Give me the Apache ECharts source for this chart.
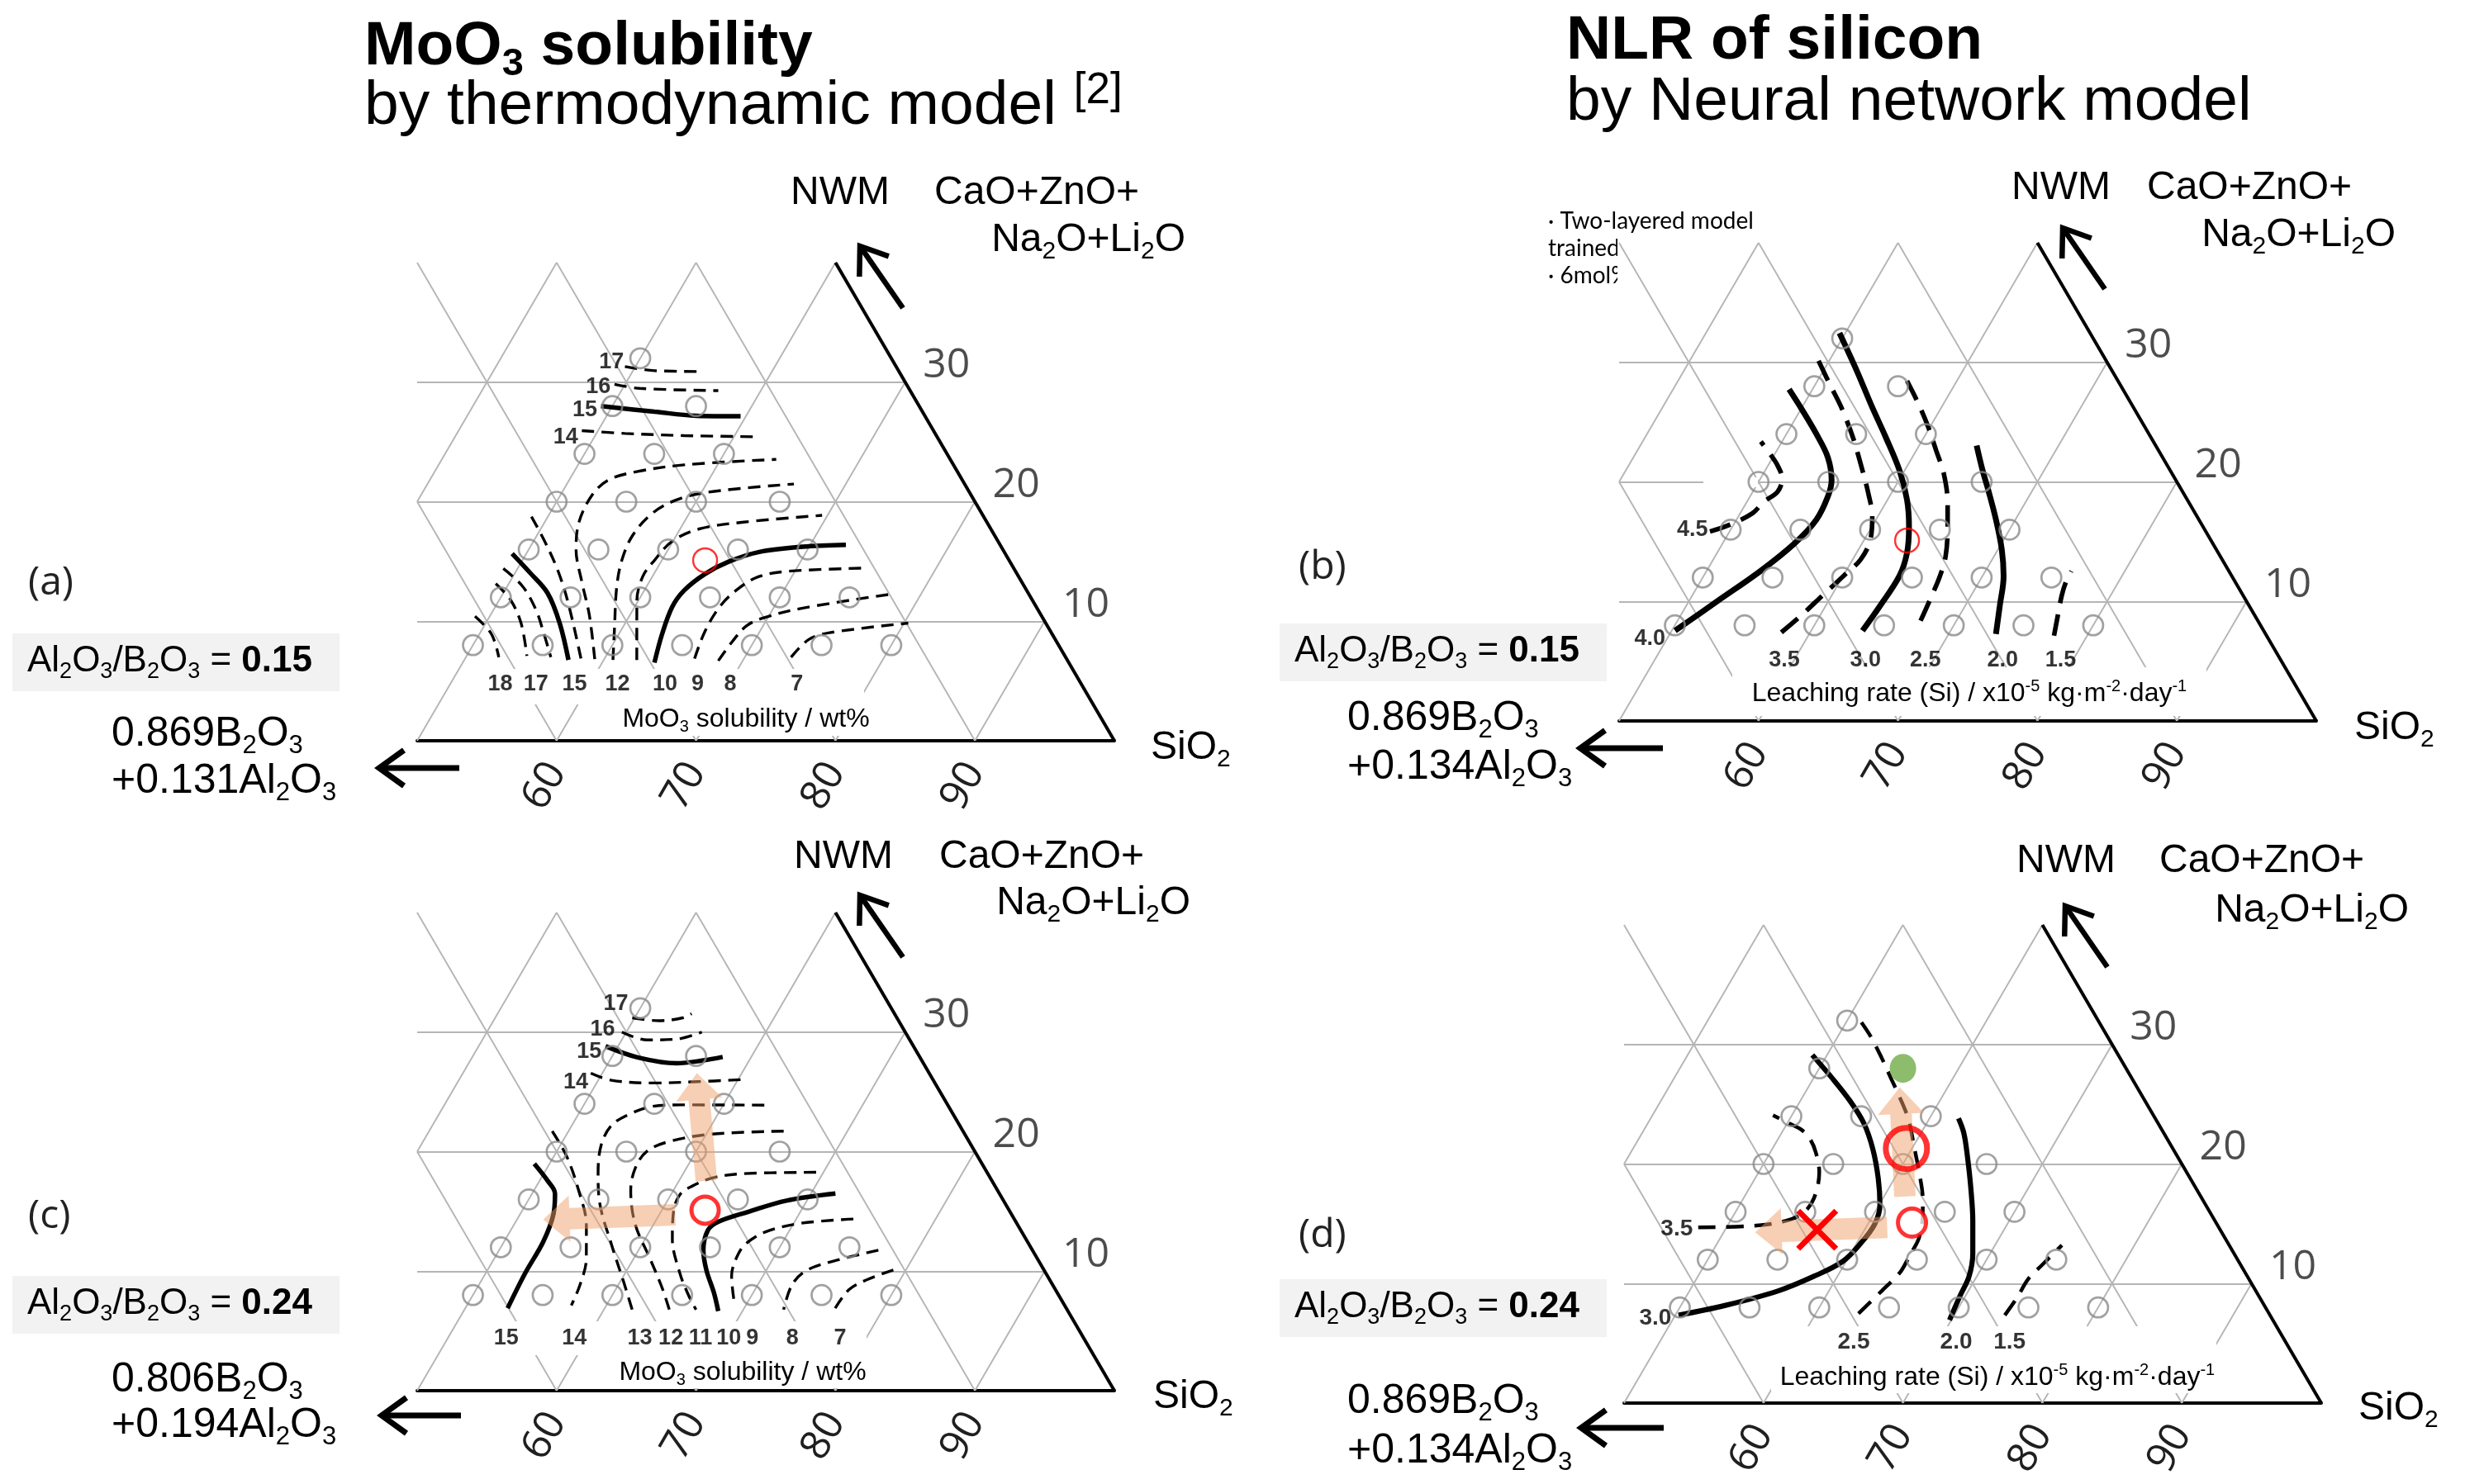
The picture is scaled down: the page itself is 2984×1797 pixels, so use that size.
<!DOCTYPE html>
<html><head><meta charset="utf-8"><title>MoO3 solubility and NLR of silicon</title>
<script src="https://cdn.jsdelivr.net/npm/echarts@6.0.0/dist/echarts.min.js"></script>
<style>html,body{margin:0;padding:0;background:#fff;}#chart{width:2984px;height:1797px;}</style>
</head><body><div id="chart"></div>
<script>
// ======================= DATA (compositions in mol%: [SiO2, NWM]) =======================
const SIO2_TICKS = [60, 70, 80, 90];
const NWM_TICKS = [10, 20, 30];
const LATTICE = [10, 20, 30, 40, 50, 60, 70, 80, 90];

const glassPoints = [[50,32],[50,28],[56,28],[50,24],[55,24],[60,24],[50,20],[55,20],[60,20],[66,20],
  [50,16],[55,16],[60,16],[65,16],[70,16],[50,12],[55,12],[60,12],[65,12],[70,12],[75,12],
  [50,8],[55,8],[60,8],[65,8],[70,8],[75,8],[80,8]];
const baseGlass = [[63.1, 15.1]];
const nnBestGlass = [[59.6, 21.3]];
const rejectedGlass = [[56.6, 14.5]];
const greenGlass = [[56, 28]];

// (a) MoO3 solubility, Al2O3/B2O3 = 0.15 (wt%)
const solubilityA = [
  {v:'18', p:[[48.94,10.41],[50.86,8.93],[52.36,6.99]]},
  {v:'17', p:[[49.06,13.15],[50.81,11.78],[52.53,9.84],[54.32,7.10]]},
  {v:'16', p:[[48.97,14.41],[51.10,12.92],[53.02,10.98],[54.46,9.16],[56.09,6.99]]},
  {v:'15', solid:true, p:[[48.98,15.66],[51.06,14.06],[53.18,12.35],[55.30,9.84],[57.47,6.76]]},
  {v:'14', p:[[48.82,18.75],[50.80,16.69],[53.02,14.18],[55.13,11.44],[58.34,6.83]]},
  {v:'13', p:[[59.32,6.83],[57.08,10.53],[55.18,13.27],[53.39,16.01],[52.46,18.29],[52.27,20.57],[52.82,21.83],[54.49,22.51],[57.61,23.08],[63.98,23.54]]},
  {v:'12', p:[[60.66,6.76],[59.46,9.38],[57.90,12.81],[57.13,15.09],[56.86,17.15],[57.32,18.97],[58.45,20.11],[60.45,20.80],[66.28,21.48]]},
  {v:'11', p:[[62.37,6.76],[59.92,11.67],[59.31,13.72],[59.47,15.09],[59.95,16.69],[61.36,17.72],[64.27,18.29],[69.61,18.86]]},
  {v:'10', solid:true, p:[[63.75,6.53],[63.10,8.93],[62.69,11.21],[62.86,12.58],[63.66,13.95],[64.85,14.98],[66.58,15.78],[69.54,16.23],[72.55,16.39]]},
  {v:'9', p:[[66.46,6.87],[66.06,9.16],[66.09,11.21],[66.58,12.58],[67.61,13.72],[69.51,14.18],[75.11,14.45]]},
  {v:'8', p:[[68.25,6.69],[68.44,8.24],[68.81,9.61],[69.75,10.30],[72.11,11.10],[77.71,12.24]]},
  {v:'7', p:[[73.32,6.99],[73.85,8.47],[75.06,9.04],[80.30,9.84]]},
  {v:'14', p:[[48.84,25.94],[52.05,25.71],[56.39,25.53],[61.64,25.43]]},
  {v:'15', solid:true, p:[[49.19,27.99],[53.25,27.53],[56.40,27.19],[59.62,27.15]]},
  {v:'16', p:[[49.24,29.82],[51.22,29.48],[56.95,29.29]]},
  {v:'17', p:[[49.25,31.30],[51.54,30.96],[54.98,30.89]]}
];
const labelsA = [['18',53.61,4.7],['17',56.16,4.7],['15',58.93,4.7],['12',62.01,4.7],['10',65.42,4.7],['9',67.76,4.7],
  ['8',70.10,4.7],['7',74.89,4.7],['17',48.12,31.64],['16',48.19,29.59],['15',48.20,27.65],['14',47.96,25.37]];

// (b) NLR of Si, Al2O3/B2O3 = 0.15 (x10^-5 kg m^-2 day^-1)
const leachingB = [
  {v:'4.5', p:[[48.59,15.85],[49.70,16.40],[50.87,17.37],[51.22,18.34],[51.78,19.17],[51.56,20.27],[50.67,21.38],[49.64,22.35],[48.48,23.37]]},
  {v:'4.0', solid:true, p:[[50.24,7.55],[52.05,10.04],[53.86,12.53],[55.17,14.88],[55.73,16.82],[55.59,18.75],[55.17,20.14],[53.93,22.07],[52.14,24.01],[50.19,25.95],[48.32,27.74]]},
  {v:'3.5', p:[[57.93,7.41],[58.69,8.93],[59.32,10.45],[60.02,12.11],[60.57,13.50],[60.44,15.16],[59.61,17.09],[58.36,19.03],[56.56,21.52],[54.90,23.73],[52.83,26.22],[51.03,28.16],[49.15,30.23]]},
  {v:'3.0', solid:true, p:[[63.68,7.55],[63.90,9.62],[64.04,12.11],[63.62,14.05],[62.66,16.26],[61.41,18.48],[59.62,20.97],[57.26,23.73],[55.05,26.22],[52.42,29.27],[49.58,32.45]]},
  {v:'2.5', p:[[67.43,8.38],[67.22,10.18],[66.95,12.11],[66.53,13.77],[65.43,16.26],[64.46,18.20],[62.94,20.69],[61.42,22.63],[59.90,24.56],[58.23,26.50],[56.43,28.44]]},
  {v:'2.0', solid:true, p:[[73.39,7.27],[72.49,9.62],[71.52,12.11],[70.28,14.33],[68.62,16.82],[66.82,19.31],[65.58,20.97],[64.12,23.04]]},
  {v:'1.5', p:[[77.62,7.14],[77.06,8.80],[76.51,10.45],[76.24,11.56],[76.17,12.53]]}
];
const labelsB = [['4.5',47.27,15.99],['4.0',48.78,6.86],['3.5',59.32,5.05],['3.0',65.14,5.05],['2.5',69.44,5.05],['2.0',74.98,5.05],['1.5',79.14,5.05]];

// (c) MoO3 solubility, Al2O3/B2O3 = 0.24
const solubilityC = [
  {v:'17', p:[[49.83,31.19],[51.87,30.95],[53.45,31.19],[53.91,31.54]]},
  {v:'16', p:[[49.68,30.00],[51.82,29.34],[53.92,29.41],[55.42,30.00]]},
  {v:'15', solid:true, p:[[49.10,28.82],[51.92,27.87],[54.92,27.39],[56.71,27.63],[57.95,27.92]]},
  {v:'14', p:[[49.17,26.56],[50.94,25.97],[54.04,25.74],[57.18,25.85],[60.18,26.02]]},
  {v:'13', p:[[62.95,23.89],[57.08,23.91],[55.01,23.79],[53.65,23.13],[52.84,22.18],[52.93,20.52],[53.90,18.15],[55.19,15.78],[57.82,12.23],[60.22,9.15],[62.03,6.78]]},
  {v:'12', p:[[65.43,21.71],[60.44,21.47],[57.75,20.88],[56.47,20.05],[56.33,18.63],[56.95,16.73],[58.70,13.89],[61.18,11.04],[63.21,8.67],[64.69,6.78]]},
  {v:'11', p:[[69.48,18.27],[64.22,18.15],[62.27,17.80],[61.14,17.09],[60.64,16.38],[60.86,15.07],[61.95,12.70],[63.90,9.86],[65.49,7.96],[66.61,6.78]]},
  {v:'10', solid:true, p:[[71.75,16.49],[68.54,15.90],[66.24,14.95],[64.53,14.12],[64.14,13.41],[64.65,11.75],[65.69,10.10],[67.18,8.20],[68.26,6.66]]},
  {v:'9', p:[[74.10,14.36],[70.55,14.01],[68.35,13.29],[67.40,12.23],[67.35,11.04],[67.74,9.62],[69.13,7.25]]},
  {v:'8', p:[[77.20,11.75],[74.65,10.92],[72.93,10.10],[72.45,8.91],[72.89,6.78]]},
  {v:'7', p:[[79.10,10.10],[77.60,9.27],[76.74,8.44],[76.52,6.54]]},
  {v:'15', solid:true, p:[[48.91,18.98],[50.58,17.56],[51.64,16.49],[52.37,14.83],[52.81,12.47],[52.83,9.86],[53.04,6.90]]},
  {v:'14', p:[[48.83,21.71],[50.95,19.57],[53.22,16.73],[55.19,13.89],[56.61,11.04],[57.24,8.91],[57.49,7.13]]}
];
const labelsC = [['15',54.18,4.41],['14',59.07,4.41],['13',63.76,4.41],['12',65.99,4.41],['11',68.12,4.41],['10',70.14,4.41],
  ['9',71.84,4.41],['8',74.71,4.41],['7',78.12,4.41],['17',48.06,32.37],['16',48.18,30.24],['15',48.17,28.34],['14',48.49,25.78]];
const arrowsC = [[61.96,17.56,56.78,26.56],[61.15,14.72,51.88,14.31]];

// (d) NLR of Si, Al2O3/B2O3 = 0.24
const leachingD = [
  {v:'3.0', solid:true, p:[[50.23,7.35],[53.14,8.16],[56.37,9.39],[58.32,10.61],[59.75,11.84],[60.28,13.33],[60.49,14.97],[60.05,16.60],[58.84,18.78],[57.23,21.23],[55.50,23.40],[53.53,25.31],[51.30,27.21],[48.94,29.12]]},
  {v:'3.5', p:[[47.97,14.70],[51.86,14.83],[53.96,15.24],[54.90,15.92],[55.05,17.14],[54.34,19.32],[53.28,20.95],[52.34,22.04],[51.30,22.86],[50.13,23.40],[48.64,24.08]]},
  {v:'2.5', p:[[63.07,7.48],[63.79,9.39],[64.32,10.89],[64.34,11.97],[64.33,12.65],[64.23,13.88],[63.53,15.78],[62.92,17.01],[61.50,19.32],[60.04,21.50],[58.57,23.68],[56.98,25.58],[55.52,27.21],[54.06,28.85],[52.41,30.61],[50.96,31.97]]},
  {v:'2.0', solid:true, p:[[69.87,6.94],[69.61,8.98],[69.44,10.61],[68.75,12.52],[67.39,15.24],[65.89,17.96],[64.28,20.68],[63.07,22.59],[62.08,23.81]]},
  {v:'1.5', p:[[73.63,7.35],[73.78,8.85],[73.79,10.34],[74.21,11.57],[74.80,13.20]]}
];
const labelsD = [['3.5',46.50,14.56],['3.0',48.71,7.08],['2.5',63.92,5.1],['2.0',71.27,5.1],['1.5',75.10,5.1]];
const arrowsD = [[61.50,17.28,56.57,26.40],[61.52,14.70,52.26,14.29]];

// ======================= LAYOUT / STYLE =======================
const FONT = '"Liberation Sans", Arial, sans-serif';
const FONT2 = '"Open Sans", sans-serif';
const GW = 844, GH = 579;
const LAYOUT = [
  {left: 505, bottom: 897},
  {left: 1960, bottom: 873},
  {left: 505, bottom: 1684},
  {left: 1966, bottom: 1699}
];
const toXY = p => [p[0] + p[1] / 2, p[1]];

function latticeSegments() {
  const segs = [];
  NWM_TICKS.forEach(n => segs.push([[50, n], [100 - n / 2, n]]));
  LATTICE.filter(s => s >= 40).forEach(s => {
    const n0 = Math.max(0, 2 * (50 - s)), n1 = Math.min(40, 100 - s);
    if (n1 > n0) segs.push([toXY([s, n0]), toXY([s, n1])]);
  });
  LATTICE.filter(b => b <= 40).forEach(b => {
    const n1 = Math.min(40, 2 * (50 - b));
    segs.push([toXY([100 - b, 0]), toXY([100 - b - n1, n1])]);
  });
  return segs;
}

const grids = [], xAxes = [], yAxes = [], series = [];
LAYOUT.forEach((L, i) => {
  grids.push({left: L.left, top: L.bottom - GH, width: GW, height: GH, outerBoundsMode: 'none', containLabel: false});
  xAxes.push({gridIndex: i, type: 'value', min: 50, max: 100, interval: 10,
    axisLine: {show: true, onZero: false, lineStyle: {color: '#000', width: 4}},
    axisTick: {show: false}, splitLine: {show: false},
    axisLabel: {show: true, rotate: 60, margin: 30, fontSize: 50, fontFamily: FONT2, color: '#1f1f1f',
      formatter: v => SIO2_TICKS.indexOf(v) >= 0 ? String(v) : ''}});
  yAxes.push({gridIndex: i, type: 'value', min: 0, max: 40, show: false});
  series.push({type: 'lines', coordinateSystem: 'cartesian2d', xAxisIndex: i, yAxisIndex: i, silent: true, z: 2,
    data: latticeSegments().map(c => ({coords: c})), lineStyle: {color: '#b5b5b5', width: 1.9, opacity: 1}});
  series.push({type: 'lines', coordinateSystem: 'cartesian2d', xAxisIndex: i, yAxisIndex: i, silent: true, z: 5,
    data: [{coords: [toXY([100, 0]), toXY([60, 40])]}], lineStyle: {color: '#000', width: 4, opacity: 1}});
  series.push({type: 'scatter', xAxisIndex: i, yAxisIndex: i, silent: true, z: 11, clip: false, symbolSize: 1,
    itemStyle: {color: 'rgba(0,0,0,0)'},
    data: NWM_TICKS.map(n => ({name: String(n), value: toXY([100 - n, n])})),
    label: {show: true, position: 'inside', offset: [50, -20], formatter: p => p.name, fontSize: 50, fontFamily: FONT2, color: '#1f1f1f'}});
});

function addContours(i, list, st) {
  list.forEach(c => series.push({type: 'line', xAxisIndex: i, yAxisIndex: i, data: c.p.map(toXY), smooth: 0.35,
    symbol: 'none', clip: false, silent: true, z: 5,
    lineStyle: {color: '#000', width: c.solid ? st.solid : st.dash, type: c.solid ? 'solid' : st.dashArr, cap: 'butt'}}));
}
function addGlass(i, pts) {
  series.push({type: 'scatter', xAxisIndex: i, yAxisIndex: i, data: pts.map(toXY), symbol: 'circle', symbolSize: 24,
    clip: false, silent: true, z: 6, itemStyle: {color: 'rgba(0,0,0,0)', borderColor: '#8a8a8a', borderWidth: 2.7}});
}
function addLabels(i, labels, size) {
  series.push({type: 'scatter', xAxisIndex: i, yAxisIndex: i, symbolSize: 1, itemStyle: {color: 'rgba(0,0,0,0)'},
    clip: false, silent: true, z: 9,
    data: labels.map(l => ({name: l[0], value: toXY([l[1], l[2]])})),
    label: {show: true, position: 'inside', formatter: p => p.name, fontSize: size, fontWeight: 'bold', fontFamily: FONT, color: '#000'}});
}
function addRing(i, pts, size, bw, fill) {
  series.push({type: 'scatter', xAxisIndex: i, yAxisIndex: i, data: pts.map(toXY), symbol: 'circle', symbolSize: size,
    clip: false, silent: true, z: 8, itemStyle: {color: fill, borderColor: '#ff0000', borderWidth: bw}});
}
function addArrows(i, list) {
  series.push({type: 'custom', coordinateSystem: 'cartesian2d', xAxisIndex: i, yAxisIndex: i, silent: true, z: 7, clip: false,
    data: list.map(a => [a[0] + a[1] / 2, a[1], a[2] + a[3] / 2, a[3]]),
    renderItem: (params, api) => {
      const p0 = api.coord([api.value(0), api.value(1)]);
      const p1 = api.coord([api.value(2), api.value(3)]);
      const dx = p1[0] - p0[0], dy = p1[1] - p0[1], L = Math.hypot(dx, dy);
      const ux = dx / L, uy = dy / L, nx = -uy, ny = ux;
      const sw = 13, hw = 28, hl = 32;
      const bx = p1[0] - ux * hl, by = p1[1] - uy * hl;
      return {type: 'polygon', shape: {points: [
        [p0[0] + nx * sw, p0[1] + ny * sw], [bx + nx * sw, by + ny * sw], [bx + nx * hw, by + ny * hw], p1,
        [bx - nx * hw, by - ny * hw], [bx - nx * sw, by - ny * sw], [p0[0] - nx * sw, p0[1] - ny * sw]]},
        style: {fill: 'rgba(240,160,105,0.5)'}};
    }});
}

// (a)
addContours(0, solubilityA, {solid: 5.5, dash: 3.4, dashArr: [15, 9]});
addGlass(0, glassPoints);
addRing(0, baseGlass, 29, 2.4, 'rgba(0,0,0,0)');
addLabels(0, labelsA, 27);
// (b)
addContours(1, leachingB, {solid: 7, dash: 5.6, dashArr: [26, 14]});
addGlass(1, glassPoints);
addRing(1, baseGlass, 29, 2.4, 'rgba(0,0,0,0)');
addLabels(1, labelsB, 27);
// (c)
addContours(2, solubilityC, {solid: 5.5, dash: 3.4, dashArr: [15, 9]});
addGlass(2, glassPoints);
addArrows(2, arrowsC);
addRing(2, baseGlass, 33, 5, '#ffffff');
addLabels(2, labelsC, 27);
// (d)
addContours(3, leachingD, {solid: 6.2, dash: 4.5, dashArr: [21, 13]});
addGlass(3, glassPoints.filter(p => !(p[0] === greenGlass[0][0] && p[1] === greenGlass[0][1])));
addArrows(3, arrowsD);
series.push({type: 'scatter', xAxisIndex: 3, yAxisIndex: 3, data: greenGlass.map(toXY), symbol: 'circle', symbolSize: [32, 35],
  clip: false, silent: true, z: 8, itemStyle: {color: '#70ad47'}});
addRing(3, baseGlass, 34, 5, '#ffffff');
addRing(3, nnBestGlass, 50, 7, 'rgba(0,0,0,0)');
series.push({type: 'custom', coordinateSystem: 'cartesian2d', xAxisIndex: 3, yAxisIndex: 3, silent: true, z: 8, clip: false,
  data: rejectedGlass.map(toXY),
  renderItem: (params, api) => {
    const c = api.coord([api.value(0), api.value(1)]), r = 23;
    return {type: 'group', children: [
      {type: 'line', shape: {x1: c[0] - r, y1: c[1] - r, x2: c[0] + r, y2: c[1] + r}, style: {stroke: '#ff0000', lineWidth: 7}},
      {type: 'line', shape: {x1: c[0] + r, y1: c[1] - r, x2: c[0] - r, y2: c[1] + r}, style: {stroke: '#ff0000', lineWidth: 7}}]};
  }});
addLabels(3, labelsD, 28);

// ======================= TEXT / DECORATION =======================
function richFor(f, w) {
  const sf = Math.round(f * 0.62);
  return {
    sub: {fontSize: sf, fontFamily: FONT, fontWeight: w || 'normal', verticalAlign: 'bottom', lineHeight: sf},
    sup: {fontSize: sf, fontFamily: FONT, fontWeight: w || 'normal', verticalAlign: 'top', lineHeight: Math.round(f * 0.75)},
    supL: {fontSize: Math.round(f * 0.7), fontFamily: FONT, fontWeight: w || 'normal', verticalAlign: 'top', lineHeight: Math.round(f * 0.82)},
    b: {fontSize: f, fontFamily: FONT, fontWeight: 'bold', lineHeight: Math.round(f * 1.2)}
  };
}
function T(text, x, y, f, o) {
  o = o || {};
  const al = o.align || 'left';
  return {type: 'text', x: x, y: y, z: o.z === undefined ? 12 : o.z, silent: true,
    style: {text: text, x: 0, y: 0, fontSize: f, fontFamily: o.family || FONT, fontWeight: o.weight || 'normal',
      fill: o.color || '#000', lineHeight: Math.round(f * 1.2), align: al, textAlign: al,
      verticalAlign: 'middle', textVerticalAlign: 'middle', rich: richFor(f, o.weight)}};
}
function R(x, y, w, h, fill, z) {
  return {type: 'rect', silent: true, z: z, shape: {x: x, y: y, width: w, height: h}, style: {fill: fill}};
}
function ARROW(x1, y1, x2, y2, head, lw) {
  const dx = x2 - x1, dy = y2 - y1, L = Math.hypot(dx, dy), ux = dx / L, uy = dy / L, nx = -uy, ny = ux;
  const bx = x2 - ux * head, by = y2 - uy * head, hw = head * 0.72;
  return [
    {type: 'polyline', silent: true, z: 12, shape: {points: [[x1, y1], [x2 - ux * 3, y2 - uy * 3]]}, style: {stroke: '#000', lineWidth: lw, fill: 'none'}},
    {type: 'polyline', silent: true, z: 12, shape: {points: [[bx + nx * hw, by + ny * hw], [x2, y2], [bx - nx * hw, by - ny * hw]]},
      style: {stroke: '#000', lineWidth: lw, fill: 'none', lineJoin: 'miter'}}
  ];
}

const G = [];
// titles
G.push(T('MoO{sub|3} solubility', 441, 57, 75, {weight: 'bold'}));
G.push(T('by thermodynamic model {supL|[2]}', 441, 129, 75));
G.push(T('NLR of silicon', 1896, 50, 75, {weight: 'bold'}));
G.push(T('by Neural network model', 1896, 124, 75));

// per-panel annotations
const ANN = [
  {tag: '(a)', tagX: 34, tagY: 706, boxY: 767, ratio: '0.15', f1: '0.869B{sub|2}O{sub|3}', f2: '+0.131Al{sub|2}O{sub|3}', fx: 135, f1y: 889, f2y: 946,
   arr: [556, 930, 459, 930], nwmX: 957, nwmY: 234, caoX: 1131, naR: 1435, naY: 291, up: [1093, 373, 1041, 298], sioX: 1393, sioY: 906},
  {tag: '(b)', tagX: 1572, tagY: 687, boxY: 755, ratio: '0.15', f1: '0.869B{sub|2}O{sub|3}', f2: '+0.134Al{sub|2}O{sub|3}', fx: 1631, f1y: 870, f2y: 929,
   arr: [2013, 906, 1913, 906], nwmX: 2435, nwmY: 228, caoX: 2599, naR: 2900, naY: 285, up: [2548, 350, 2497, 276], sioX: 2850, sioY: 882},
  {tag: '(c)', tagX: 34, tagY: 1473, boxY: 1545, ratio: '0.24', f1: '0.806B{sub|2}O{sub|3}', f2: '+0.194Al{sub|2}O{sub|3}', fx: 135, f1y: 1671, f2y: 1726,
   arr: [558, 1714, 462, 1714], nwmX: 961, nwmY: 1038, caoX: 1137, naR: 1441, naY: 1094, up: [1093, 1159, 1041, 1084], sioX: 1396, sioY: 1692},
  {tag: '(d)', tagX: 1572, tagY: 1496, boxY: 1549, ratio: '0.24', f1: '0.869B{sub|2}O{sub|3}', f2: '+0.134Al{sub|2}O{sub|3}', fx: 1631, f1y: 1697, f2y: 1757,
   arr: [2014, 1729, 1914, 1729], nwmX: 2441, nwmY: 1043, caoX: 2614, naR: 2916, naY: 1103, up: [2551, 1171, 2500, 1097], sioX: 2855, sioY: 1706}
];
ANN.forEach((a, i) => {
  const bx = i % 2 === 0 ? 15 : 1549;
  G.push(T(a.tag, a.tagX, a.tagY, 48, {family: FONT2, color: '#222'}));
  G.push(R(bx, a.boxY, 396, 70, '#f2f2f2', 3));
  G.push(T('Al{sub|2}O{sub|3}/B{sub|2}O{sub|3} = {b|' + a.ratio + '}', bx + 18, a.boxY + 34, 44));
  G.push(T(a.f1, a.fx, a.f1y, 50));
  G.push(T(a.f2, a.fx, a.f2y, 50));
  ARROW(a.arr[0], a.arr[1], a.arr[2], a.arr[3], 30, 7).forEach(e => G.push(e));
  G.push(T('NWM', a.nwmX, a.nwmY, 48));
  G.push(T('CaO+ZnO+', a.caoX, a.nwmY, 48));
  G.push(T('Na{sub|2}O+Li{sub|2}O', a.naR, a.naY, 48, {align: 'right'}));
  ARROW(a.up[0], a.up[1], a.up[2], a.up[3], 30, 6.5).forEach(e => G.push(e));
  G.push(T('SiO{sub|2}', a.sioX, a.sioY, 48));
});

// white label panels laid over the lattice
G.push(R(576, 810, 470, 43, '#fff', 4));
G.push(R(752, 853, 301, 38, '#fff', 10));
G.push(T('MoO{sub|3} solubility / wt%', 903, 871, 32, {align: 'center'}));
G.push(R(583, 1600, 466, 41, '#fff', 4));
G.push(R(742, 1641, 313, 40, '#fff', 10));
G.push(T('MoO{sub|3} solubility / wt%', 899, 1662, 32, {align: 'center'}));
G.push(R(2097, 808, 574, 59, '#fff', 10));
G.push(T('Leaching rate (Si) / x10{sup|-5} kg·m{sup|-2}·day{sup|-1}', 2384, 840, 32, {align: 'center'}));
G.push(R(2126, 1606, 557, 30, '#fff', 4));
G.push(R(2144, 1636, 544, 51, '#fff', 10));
G.push(T('Leaching rate (Si) / x10{sup|-5} kg·m{sup|-2}·day{sup|-1}', 2418, 1668, 32, {align: 'center'}));
G.push(R(2062, 578, 66, 12, '#fff', 4));

// clipped note in panel (b)
G.push(T('· Two-layered model', 1874, 268, 28, {family: 'Lato', z: 0}));
G.push(T('trained', 1874, 301, 28, {family: 'Lato', z: 0}));
G.push(T('· 6mol%', 1874, 334, 28, {family: 'Lato', z: 0}));
G.push(R(1958, 284, 110, 66, '#fff', 1));

const chart = echarts.init(document.getElementById('chart'), null, {width: 2984, height: 1797, renderer: 'canvas'});
chart.setOption({
  animation: false,
  backgroundColor: '#ffffff',
  grid: grids, xAxis: xAxes, yAxis: yAxes,
  series: series,
  graphic: {elements: G}
});
</script></body></html>
